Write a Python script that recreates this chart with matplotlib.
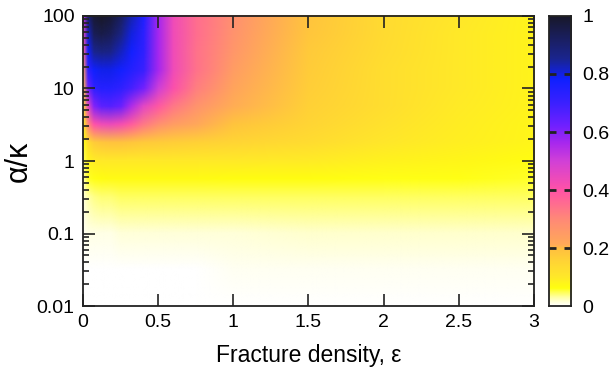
import numpy as np
import matplotlib.pyplot as plt
from matplotlib.colors import LinearSegmentedColormap, Normalize
from matplotlib.image import NonUniformImage
from matplotlib.ticker import FixedLocator, FixedFormatter, NullFormatter

plt.rcParams['font.family'] = ['Liberation Sans', 'DejaVu Sans']

# --- data ---
eps = [0, 0.03, 0.07, 0.12, 0.18, 0.25, 0.32, 0.4, 0.5, 0.6, 0.75, 1.0, 1.5, 2.0, 2.5, 3.0]
# log10(alpha/kappa)
log_ratio = [-2, -1.5, -1, -0.5, -0.25, 0, 0.25, 0.5, 0.75, 1.0, 1.25, 1.5, 1.75, 2.0]

# rows go from log_ratio = -2 (bottom) to 2 (top)
z_rows = [
    [0.000, 0.000, 0.000, 0.000, 0.001, 0.001, 0.001, 0.001, 0.001, 0.001, 0.001, 0.001, 0.001, 0.001, 0.001, 0.001],
    [0.001, 0.002, 0.002, 0.003, 0.003, 0.003, 0.003, 0.003, 0.003, 0.003, 0.003, 0.004, 0.004, 0.004, 0.004, 0.004],
    [0.004, 0.008, 0.009, 0.010, 0.011, 0.012, 0.012, 0.013, 0.013, 0.014, 0.014, 0.015, 0.016, 0.016, 0.017, 0.017],
    [0.015, 0.030, 0.037, 0.040, 0.042, 0.044, 0.045, 0.045, 0.045, 0.045, 0.045, 0.045, 0.045, 0.045, 0.045, 0.045],
    [0.030, 0.055, 0.062, 0.066, 0.068, 0.070, 0.070, 0.070, 0.070, 0.068, 0.067, 0.066, 0.064, 0.062, 0.060, 0.058],
    [0.045, 0.080, 0.095, 0.100, 0.100, 0.100, 0.100, 0.100, 0.100, 0.100, 0.100, 0.100, 0.095, 0.085, 0.075, 0.065],
    [0.060, 0.130, 0.170, 0.180, 0.190, 0.190, 0.180, 0.175, 0.170, 0.165, 0.160, 0.150, 0.130, 0.105, 0.088, 0.075],
    [0.090, 0.300, 0.400, 0.430, 0.440, 0.420, 0.380, 0.330, 0.280, 0.245, 0.215, 0.185, 0.150, 0.115, 0.092, 0.078],
    [0.140, 0.450, 0.600, 0.650, 0.660, 0.630, 0.550, 0.460, 0.390, 0.330, 0.270, 0.210, 0.160, 0.125, 0.097, 0.080],
    [0.200, 0.620, 0.720, 0.740, 0.740, 0.720, 0.680, 0.620, 0.500, 0.410, 0.320, 0.225, 0.165, 0.125, 0.100, 0.080],
    [0.280, 0.720, 0.780, 0.790, 0.790, 0.770, 0.740, 0.700, 0.560, 0.430, 0.340, 0.245, 0.170, 0.128, 0.100, 0.080],
    [0.380, 0.780, 0.850, 0.870, 0.860, 0.820, 0.770, 0.720, 0.560, 0.430, 0.340, 0.260, 0.175, 0.130, 0.100, 0.080],
    [0.470, 0.820, 0.930, 0.950, 0.930, 0.870, 0.800, 0.730, 0.560, 0.430, 0.350, 0.270, 0.180, 0.133, 0.100, 0.080],
    [0.550, 0.900, 0.980, 1.000, 0.980, 0.920, 0.830, 0.750, 0.560, 0.430, 0.350, 0.280, 0.185, 0.135, 0.102, 0.082],
]

y_ticks = [-2, -1, 0, 1, 2]
y_ticklabels = ["0.01", "0.1", "1", "10", "100"]
x_ticks = [0, 0.5, 1, 1.5, 2, 2.5, 3]
x_ticklabels = ["0", "0.5", "1", "1.5", "2", "2.5", "3"]
cb_ticks = [0, 0.2, 0.4, 0.6, 0.8, 1]
cb_ticklabels = ["0", "0.2", "0.4", "0.6", "0.8", "1"]

# palette: white -> yellow -> orange -> pink -> purple -> blue -> navy
cmap = LinearSegmentedColormap.from_list("frac", [
    (0.000, "#ffffff"),
    (0.030, "#ffffa0"),
    (0.060, "#ffff10"),
    (0.100, "#ffe82a"),
    (0.150, "#ffd535"),
    (0.195, "#ffc040"),
    (0.210, "#ffaa58"),
    (0.300, "#ff8878"),
    (0.400, "#ff52a8"),
    (0.500, "#d040d8"),
    (0.560, "#a828ee"),
    (0.620, "#7020ff"),
    (0.700, "#3a20ff"),
    (0.780, "#1020ff"),
    (0.850, "#1a2590"),
    (0.920, "#1a1f60"),
    (1.000, "#181828"),
])
norm = Normalize(0, 1)

Z = np.array(z_rows)

fig = plt.figure(figsize=(6.12, 3.72), dpi=100)
ax = fig.add_axes([0.1356, 0.1774, 0.7369, 0.7796])
cax = fig.add_axes([0.897, 0.1774, 0.036, 0.7796])

# log-spaced rows drawn on a log10 axis, smoothed bilinearly
im = NonUniformImage(ax, interpolation="bilinear", cmap=cmap,
                     norm=norm, extent=(0, 3, -2, 2))
im.set_data(eps, log_ratio, Z)
ax.add_image(im)
ax.set_xlim(0, 3)
ax.set_ylim(-2, 2)

# minor ticks of a log axis (2..9 within each decade)
minor_y = [d + np.log10(k) for d in range(-2, 2) for k in range(2, 10)]

ax.xaxis.set_major_locator(FixedLocator(x_ticks))
ax.xaxis.set_major_formatter(FixedFormatter(x_ticklabels))
ax.yaxis.set_major_locator(FixedLocator(y_ticks))
ax.yaxis.set_major_formatter(FixedFormatter(y_ticklabels))
ax.yaxis.set_minor_locator(FixedLocator(minor_y))
ax.yaxis.set_minor_formatter(NullFormatter())

ax.tick_params(which="both", direction="in", top=True, right=True,
               labelsize=14, width=1.2, color="#222222")
ax.tick_params(which="major", length=8.5, pad=6)
ax.tick_params(which="minor", length=4.5)
for s in ax.spines.values():
    s.set_linewidth(1.3)
    s.set_color("#222222")

ax.set_xlabel("Fracture density, ε", fontsize=16.5, labelpad=9)
ax.set_ylabel("α/κ", fontsize=22, labelpad=2)

# colour key: the palette drawn as a vertical strip
scale = np.linspace(0, 1, 256)[:, None]
cax.imshow(scale, cmap=cmap, norm=norm, aspect="auto", origin="lower",
           extent=(0, 1, 0, 1), zorder=0)
cax.set_xlim(0, 1)
cax.set_ylim(0, 1)
cax.set_xticks([])
cax.yaxis.set_major_locator(FixedLocator(cb_ticks))
cax.yaxis.set_major_formatter(FixedFormatter(cb_ticklabels))
cax.tick_params(axis="y", length=0, labelsize=14, labelleft=False,
                labelright=True, pad=8)
# short tick dashes on both inner sides of the key
cax.hlines(cb_ticks[1:-1], 0.0, 0.3, colors="#222222", lw=2, zorder=3)
cax.hlines(cb_ticks[1:-1], 0.7, 1.0, colors="#222222", lw=2, zorder=3)
for s in cax.spines.values():
    s.set_linewidth(1.3)
    s.set_color("#222222")

fig.savefig("out.png", dpi=100)
